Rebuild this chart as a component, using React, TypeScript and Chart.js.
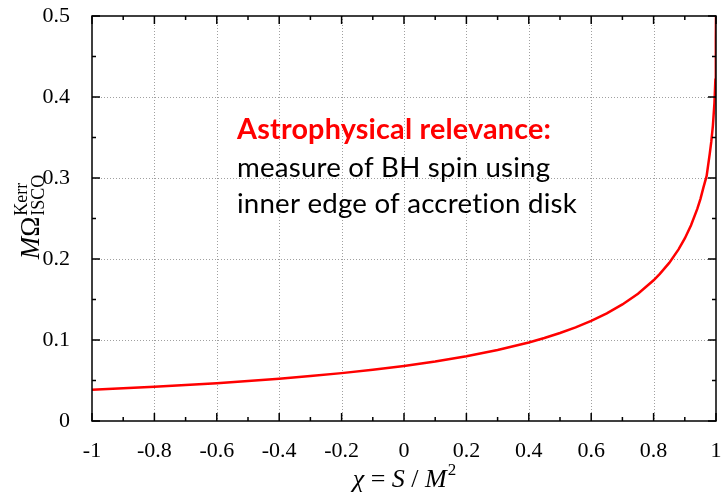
import React, { useEffect, useRef } from "react";
import { Chart, registerables } from "chart.js";

Chart.register(...registerables);

// spin parameter chi = S / M^2
const chi = [
  -1, -0.9, -0.8, -0.7, -0.6, -0.5, -0.4, -0.3, -0.2, -0.1, 0, 0.1, 0.2, 0.3, 0.4,
  0.45, 0.5, 0.55, 0.6, 0.65, 0.7, 0.75, 0.8, 0.82, 0.85, 0.88, 0.9, 0.92, 0.94,
  0.95, 0.96, 0.97, 0.98, 0.985, 0.99, 0.995, 0.998, 0.999, 0.9995, 0.9999, 1,
];
// M * Omega_ISCO (Kerr)
const omega = [
  0.0385, 0.0403, 0.0422, 0.0444, 0.0467, 0.0493, 0.0523, 0.0555, 0.0591, 0.0633,
  0.068, 0.0735, 0.08, 0.0876, 0.097, 0.1024, 0.1086, 0.1156, 0.1236, 0.1329, 0.1439,
  0.1572, 0.1737, 0.1816, 0.1952, 0.2119, 0.2254, 0.2416, 0.2618, 0.274, 0.2888,
  0.3026, 0.33, 0.3451, 0.3644, 0.3925, 0.4213, 0.4379, 0.451, 0.4717, 0.5,
];

const xTicks = [-1, -0.8, -0.6, -0.4, -0.2, 0, 0.2, 0.4, 0.6, 0.8, 1];
const yTicks = [0, 0.1, 0.2, 0.3, 0.4, 0.5];

const annotationTitle = "Astrophysical relevance:";
const annotationLines = ["measure of BH spin using", "inner edge of accretion disk"];

const SERIF = "'Liberation Serif', 'DejaVu Serif', serif";
const SANS = "Lato, 'Open Sans', 'DejaVu Sans', sans-serif";

const fmt = (v: number) => String(Number(v.toFixed(1)));

const framePlugin = {
  id: "frame",
  beforeDatasetsDraw(chart: any) {
    const { ctx, chartArea: a, scales } = chart;
    const xs = scales.x;
    const ys = scales.y;
    ctx.save();
    ctx.strokeStyle = "#a0a0a0";
    ctx.lineWidth = 1;
    ctx.setLineDash([1, 2]);
    xTicks.slice(1, -1).forEach((t) => {
      const px = Math.round(xs.getPixelForValue(t)) + 0.5;
      ctx.beginPath();
      ctx.moveTo(px, a.top);
      ctx.lineTo(px, a.bottom);
      ctx.stroke();
    });
    yTicks.slice(1, -1).forEach((t) => {
      const py = Math.round(ys.getPixelForValue(t)) + 0.5;
      ctx.beginPath();
      ctx.moveTo(a.left, py);
      ctx.lineTo(a.right, py);
      ctx.stroke();
    });
    ctx.restore();
  },
  afterDatasetsDraw(chart: any) {
    const { ctx, chartArea: a, scales } = chart;
    const xs = scales.x;
    const ys = scales.y;
    ctx.save();
    ctx.strokeStyle = "#000";
    ctx.lineWidth = 1.5;
    ctx.setLineDash([]);
    const major = 8;
    const minor = 4;
    for (let i = 0; i < xTicks.length; i++) {
      const t = xTicks[i];
      const px = xs.getPixelForValue(t);
      ctx.beginPath();
      ctx.moveTo(px, a.bottom);
      ctx.lineTo(px, a.bottom - major);
      ctx.moveTo(px, a.top);
      ctx.lineTo(px, a.top + major);
      ctx.stroke();
      if (i < xTicks.length - 1) {
        const m = xs.getPixelForValue((t + xTicks[i + 1]) / 2);
        ctx.beginPath();
        ctx.moveTo(m, a.bottom);
        ctx.lineTo(m, a.bottom - minor);
        ctx.moveTo(m, a.top);
        ctx.lineTo(m, a.top + minor);
        ctx.stroke();
      }
    }
    for (let i = 0; i < yTicks.length; i++) {
      const t = yTicks[i];
      const py = ys.getPixelForValue(t);
      ctx.beginPath();
      ctx.moveTo(a.left, py);
      ctx.lineTo(a.left + major, py);
      ctx.moveTo(a.right, py);
      ctx.lineTo(a.right - major, py);
      ctx.stroke();
      if (i < yTicks.length - 1) {
        const m = ys.getPixelForValue((t + yTicks[i + 1]) / 2);
        ctx.beginPath();
        ctx.moveTo(a.left, m);
        ctx.lineTo(a.left + minor, m);
        ctx.moveTo(a.right, m);
        ctx.lineTo(a.right - minor, m);
        ctx.stroke();
      }
    }
    ctx.strokeRect(a.left, a.top, a.right - a.left, a.bottom - a.top);

    // annotation text (no ligatures)
    const tx = 237;
    (ctx as any).textRendering = "optimizeSpeed";
    (ctx as any).letterSpacing = "0.2px";
    ctx.font = `bold 100px ${SANS}`;
    const w1 = ctx.measureText(annotationTitle).width;
    const s1 = (100 * 311) / w1;
    ctx.font = `bold ${s1}px ${SANS}`;
    ctx.fillStyle = "#ff0000";
    ctx.textBaseline = "alphabetic";
    ctx.textAlign = "left";
    ctx.fillText(annotationTitle, tx, 139);
    ctx.font = `100px ${SANS}`;
    const w2 = ctx.measureText(annotationLines[0]).width;
    const s2 = (100 * 310) / w2;
    ctx.font = `${s2}px ${SANS}`;
    ctx.fillStyle = "#000";
    ctx.fillText(annotationLines[0], tx, 177);
    ctx.fillText(annotationLines[1], tx, 213);
    (ctx as any).letterSpacing = "0px";
    (ctx as any).textRendering = "auto";

    // x title: chi = S / M^2
    const parts: [string, string][] = [
      ["χ", `italic 26px ${SERIF}`],
      [" = ", `26px ${SERIF}`],
      ["S", `italic 26px ${SERIF}`],
      [" / ", `26px ${SERIF}`],
      ["M", `italic 26px ${SERIF}`],
    ];
    let total = 0;
    parts.forEach(([s, f]) => {
      ctx.font = f;
      total += ctx.measureText(s).width;
    });
    ctx.font = `17px ${SERIF}`;
    total += ctx.measureText("2").width;
    let cx = (a.left + a.right) / 2 - total / 2;
    const by = 487;
    parts.forEach(([s, f]) => {
      ctx.font = f;
      ctx.fillText(s, cx, by);
      cx += ctx.measureText(s).width;
    });
    ctx.font = `17px ${SERIF}`;
    ctx.fillText("2", cx + 1, by - 12);

    // y title: M Omega^Kerr_ISCO (rotated)
    ctx.save();
    ctx.translate(39, 217);
    ctx.rotate(-Math.PI / 2);
    const mainF = `italic 27px ${SERIF}`;
    const omF = `27px ${SERIF}`;
    const smallF = `18px ${SERIF}`;
    ctx.font = mainF;
    const wM = ctx.measureText("M").width;
    ctx.font = omF;
    const wO = ctx.measureText("Ω").width;
    ctx.font = smallF;
    const wSub = ctx.measureText("ISCO").width;
    const wSup = ctx.measureText("Kerr").width;
    const tw = wM + wO + Math.max(wSub, wSup) + 1;
    let ox = -tw / 2;
    ctx.font = mainF;
    ctx.fillText("M", ox, 0);
    ox += wM;
    ctx.font = omF;
    ctx.fillText("Ω", ox, 0);
    ox += wO + 1;
    ctx.font = smallF;
    ctx.fillText("Kerr", ox, -12);
    ctx.fillText("ISCO", ox, 5);
    ctx.restore();

    ctx.restore();
  },
};

const zeroPad = (s: any) => {
  s.paddingTop = 0;
  s.paddingBottom = 0;
  s.paddingLeft = 0;
  s.paddingRight = 0;
};

export default function App() {
  const ref = useRef<HTMLCanvasElement | null>(null);
  useEffect(() => {
    document.body.style.margin = "0";
    const canvas = ref.current;
    if (!canvas) return;
    const chart = new Chart(canvas, {
      type: "line",
      data: {
        datasets: [
          {
            data: chi.map((x, i) => ({ x, y: omega[i] })),
            borderColor: "#ff0000",
            borderWidth: 2.5,
            pointRadius: 0,
            tension: 0,
            fill: false,
          },
        ],
      },
      options: {
        animation: false,
        responsive: false,
        devicePixelRatio: 1,
        layout: { padding: { top: 16, right: 6, left: 0, bottom: 0 } },
        plugins: { legend: { display: false }, tooltip: { enabled: false } },
        scales: {
          x: {
            type: "linear",
            min: -1,
            max: 1,
            grid: { display: false },
            border: { display: false },
            afterBuildTicks: (s: any) => {
              s.ticks = xTicks.map((v) => ({ value: v }));
            },
            afterFit: (s: any) => {
              s.height = 74;
              zeroPad(s);
            },
            ticks: {
              padding: 9,
              color: "#000",
              font: { family: SERIF, size: 22 },
              maxRotation: 0,
              autoSkip: false,
              callback: (v: any) => fmt(Number(v)),
            },
          },
          y: {
            type: "linear",
            min: 0,
            max: 0.5,
            grid: { display: false },
            border: { display: false },
            afterBuildTicks: (s: any) => {
              s.ticks = yTicks.map((v) => ({ value: v }));
            },
            afterFit: (s: any) => {
              s.width = 92;
              zeroPad(s);
            },
            ticks: {
              padding: 14,
              color: "#000",
              font: { family: SERIF, size: 22 },
              autoSkip: false,
              callback: (v: any) => fmt(Number(v)),
            },
          },
        },
      },
      plugins: [framePlugin],
    } as any);
    return () => chart.destroy();
  }, []);
  return <canvas ref={ref} width={722} height={495} style={{ display: "block" }} />;
}
